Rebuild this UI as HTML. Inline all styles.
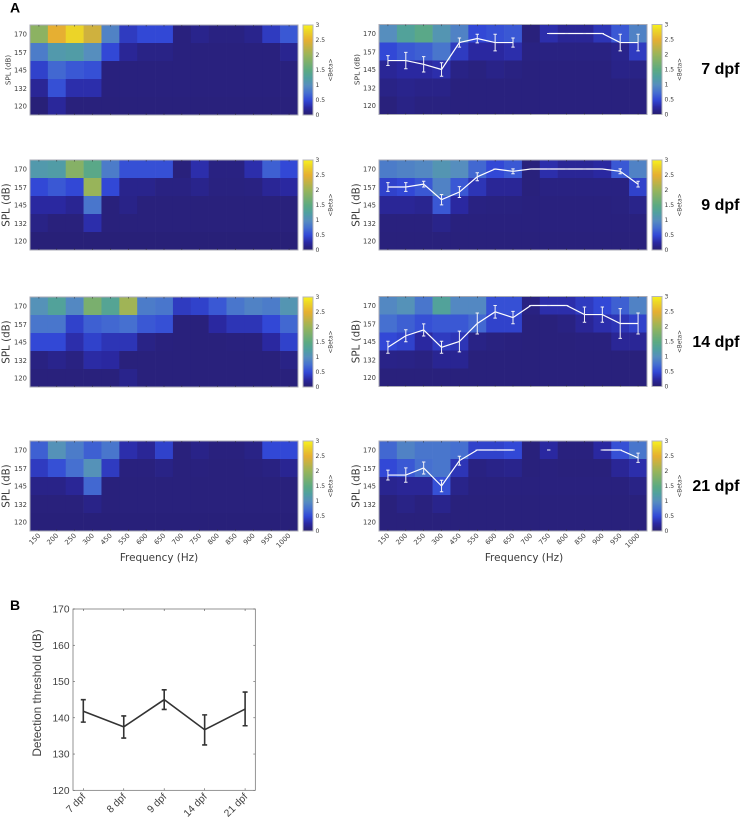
<!DOCTYPE html>
<html>
<head>
<meta charset="utf-8">
<style>
html,body{margin:0;padding:0;background:#fff;width:740px;height:824px;overflow:hidden}
svg{display:block;filter:blur(0.35px)}
text{font-family:"DejaVu Sans",sans-serif}
.lib{font-family:"Liberation Sans",sans-serif}
</style>
</head>
<body>
<svg id="figure" xmlns="http://www.w3.org/2000/svg" width="740" height="824" viewBox="0 0 740 824"></svg>
<script>
const frequencies = [150,200,250,300,450,550,600,650,700,750,800,850,900,950,1000];
const splLevels = [170,157,145,132,120];
const colorbarTicks = [0,0.5,1,1.5,2,2.5,3];

const heat7Left = [
 [1.9,2.5,2.8,2.35,0.9,0.4,0.5,0.5,0.08,0.15,0.1,0.1,0.15,0.4,0.6],
 [0.85,1.15,1.2,1.0,0.5,0.2,0.12,0.12,0.08,0.08,0.08,0.08,0.08,0.08,0.17],
 [0.45,0.7,0.6,0.55,0.08,0.08,0.08,0.08,0.08,0.08,0.08,0.08,0.08,0.08,0.08],
 [0.2,0.55,0.3,0.3,0.08,0.08,0.08,0.08,0.08,0.08,0.08,0.08,0.08,0.08,0.08],
 [0.05,0.22,0.07,0.07,0.07,0.07,0.07,0.07,0.07,0.07,0.07,0.07,0.07,0.07,0.07]
];
const heat7Right = [
 [1.0,1.3,1.45,1.1,0.9,0.5,0.55,0.6,0.07,0.3,0.2,0.2,0.35,0.6,0.9],
 [0.5,0.6,0.65,0.8,0.4,0.25,0.25,0.3,0.1,0.1,0.1,0.1,0.1,0.15,0.4],
 [0.2,0.25,0.25,0.3,0.12,0.09,0.13,0.1,0.08,0.08,0.08,0.08,0.08,0.13,0.12],
 [0.12,0.15,0.13,0.13,0.08,0.08,0.08,0.08,0.08,0.08,0.08,0.08,0.08,0.08,0.08],
 [0.07,0.12,0.09,0.09,0.08,0.08,0.08,0.08,0.08,0.08,0.08,0.08,0.08,0.08,0.08]
];
const heat9Left = [
 [1.15,1.2,1.85,1.45,0.85,0.55,0.55,0.55,0.07,0.3,0.1,0.1,0.3,0.65,0.5],
 [0.5,0.6,0.5,2.0,0.5,0.15,0.15,0.1,0.1,0.15,0.09,0.09,0.1,0.2,0.25],
 [0.25,0.25,0.18,0.8,0.07,0.13,0.07,0.07,0.07,0.07,0.07,0.07,0.07,0.07,0.07],
 [0.12,0.07,0.07,0.3,0.07,0.07,0.07,0.07,0.07,0.07,0.07,0.07,0.07,0.07,0.07],
 [0.05,0.05,0.05,0.05,0.05,0.05,0.05,0.05,0.05,0.05,0.05,0.05,0.05,0.05,0.05]
];
const heat9Right = [
 [0.85,0.9,0.95,1.1,1.0,0.7,0.5,0.6,0.07,0.3,0.2,0.2,0.25,0.6,0.9],
 [0.45,0.5,0.6,0.9,0.6,0.35,0.2,0.2,0.07,0.1,0.1,0.1,0.1,0.1,0.45],
 [0.2,0.2,0.17,0.6,0.25,0.1,0.09,0.09,0.08,0.08,0.08,0.08,0.08,0.09,0.14],
 [0.08,0.08,0.08,0.14,0.08,0.08,0.08,0.08,0.08,0.08,0.08,0.08,0.08,0.08,0.08],
 [0.07,0.07,0.07,0.07,0.07,0.07,0.07,0.07,0.07,0.07,0.07,0.07,0.07,0.07,0.07]
];
const heat14Left = [
 [1.05,1.3,0.95,1.75,1.35,2.05,0.85,0.8,0.4,0.45,0.6,0.8,0.9,0.85,1.1],
 [0.8,0.8,0.45,0.65,0.7,0.75,0.6,0.55,0.07,0.07,0.25,0.35,0.35,0.5,0.7],
 [0.5,0.5,0.3,0.45,0.35,0.35,0.12,0.08,0.07,0.07,0.07,0.08,0.08,0.25,0.45],
 [0.1,0.15,0.1,0.27,0.25,0.07,0.07,0.07,0.07,0.07,0.07,0.07,0.07,0.07,0.12],
 [0.07,0.07,0.07,0.07,0.07,0.15,0.07,0.07,0.07,0.07,0.07,0.07,0.07,0.07,0.07]
];
const heat14Right = [
 [0.95,1.05,0.8,1.3,0.95,0.95,0.55,0.55,0.1,0.3,0.3,0.4,0.5,0.65,0.9],
 [0.75,0.65,0.55,0.6,0.6,0.7,0.45,0.45,0.07,0.07,0.1,0.2,0.3,0.35,0.45],
 [0.5,0.45,0.25,0.4,0.35,0.12,0.09,0.08,0.07,0.07,0.07,0.08,0.08,0.2,0.2],
 [0.13,0.12,0.1,0.18,0.18,0.07,0.07,0.07,0.07,0.07,0.07,0.07,0.07,0.07,0.07],
 [0.07,0.07,0.07,0.07,0.07,0.07,0.07,0.07,0.07,0.07,0.07,0.07,0.07,0.07,0.07]
];
const heat21Left = [
 [0.65,1.05,0.85,0.65,0.8,0.3,0.2,0.45,0.07,0.13,0.08,0.08,0.12,0.5,0.5],
 [0.4,0.55,0.75,1.05,0.4,0.08,0.08,0.12,0.07,0.08,0.07,0.07,0.08,0.1,0.18],
 [0.13,0.13,0.2,0.7,0.07,0.07,0.07,0.07,0.07,0.07,0.07,0.07,0.07,0.07,0.07],
 [0.07,0.07,0.07,0.13,0.07,0.07,0.07,0.07,0.07,0.07,0.07,0.07,0.07,0.07,0.07],
 [0.06,0.06,0.06,0.06,0.06,0.06,0.06,0.06,0.06,0.06,0.06,0.06,0.06,0.06,0.06]
];
const heat21Right = [
 [0.7,0.9,0.8,0.8,0.75,0.45,0.45,0.5,0.07,0.25,0.08,0.08,0.25,0.55,0.8],
 [0.5,0.6,0.75,0.8,0.35,0.1,0.13,0.15,0.07,0.08,0.07,0.07,0.07,0.2,0.3],
 [0.17,0.2,0.2,0.55,0.14,0.08,0.08,0.08,0.08,0.08,0.08,0.08,0.08,0.08,0.12],
 [0.07,0.12,0.08,0.15,0.07,0.07,0.07,0.07,0.07,0.07,0.07,0.07,0.07,0.07,0.07],
 [0.07,0.07,0.07,0.07,0.07,0.07,0.07,0.07,0.07,0.07,0.07,0.07,0.07,0.07,0.07]
];

const threshold7 = [151.2,151.2,148.6,145,163.7,166.5,163.7,163.7,null,170,170,170,170,163.7,163.7];
const error7 = [3.4,5.7,5.3,4.7,3.2,3,5.8,3.2,null,0,0,0,0,5.8,5.8];
const threshold9 = [157.5,157.5,159.5,148.7,154,164.6,170,168.4,170,170,170,170,170,168.4,159.5];
const error9 = [3,3,2,3.6,3.8,2.8,0,1.7,0,0,0,0,0,1.7,2];
const threshold14 = [141,149,153,141,145,157.5,165.6,161.6,170,170,170,163.7,163.7,157.5,157.5];
const error14 = [4.2,4.2,4.2,4.2,7.2,7.3,4.4,4.3,0,0,0,5.3,5.3,10.3,7.3];
const threshold21 = [152.6,152.6,157.5,145,162.6,170,170,170,null,170,null,null,170,170,164.6];
const error21 = [3.4,5,4.2,4,3.1,0,0,0,null,0,null,null,0,0,3.2];

const ageLabels = ["7 dpf","8 dpf","9 dpf","14 dpf","21 dpf"];
const detectionMeans = [141.8,137.5,145,136.7,142.4];
const detectionUpper = [145,140.5,147.7,140.8,147.1];
const detectionLower = [138.8,134.4,142.3,132.5,137.8];
const detectionTicks = [120,130,140,150,160,170];

const NS = "http://www.w3.org/2000/svg";
const svg = document.getElementById("figure");

function node(tag, attrs, parent) {
  const el = document.createElementNS(NS, tag);
  for (const k in attrs) el.setAttribute(k, attrs[k]);
  (parent || svg).appendChild(el);
  return el;
}

function betaColor(v) {
  const s = [[0,40,30,110],[0.25,42,40,160],[0.5,50,72,214],[0.75,70,112,208],[1,86,142,190],[1.25,80,160,160],
             [1.5,92,170,130],[2,152,180,90],[2.5,230,175,50],[2.8,236,212,40],[3,248,240,30]];
  for (let i = 1; i < s.length; i++) {
    if (v <= s[i][0]) {
      const t = (v - s[i-1][0]) / (s[i][0] - s[i-1][0]);
      const c = [1,2,3].map(j => Math.round(s[i-1][j] + t * (s[i][j] - s[i-1][j])));
      return "rgb(" + c.join(",") + ")";
    }
  }
  return "rgb(248,240,30)";
}

function drawHeatmap(name, left, top, matrix, opts) {
  const W = 268, H = 90;
  const g = node("g", {});
  
  
  const cw = W / frequencies.length, ch = H / splLevels.length;
  const xScale = i => left + (i + 0.5) * cw;
  const yScale = db => top + ch / 2 + (170 - db) / 50 * (H - ch);

  matrix.forEach((row, r) => row.forEach((v, c) => {
    const cell = node("rect", {x: left + c * cw, y: top + r * ch, width: cw + 0.3, height: ch + 0.3, fill: betaColor(v)}, g);
    
    
  }));
  const frame = node("rect", {x: left, y: top, width: W, height: H, fill: "none", stroke: "#a9aab4", "stroke-width": 1}, g);
  
  

  frequencies.forEach((f, i) => {
    node("line", {x1: xScale(i), x2: xScale(i), y1: top, y2: top + 1.6, stroke: "#333", "stroke-width": 0.5}, g);
    node("line", {x1: xScale(i), x2: xScale(i), y1: top + H, y2: top + H - 1.6, stroke: "#333", "stroke-width": 0.5}, g);
    if (opts.xLabels) {
      const t = node("text", {x: xScale(i) + 2, y: top + H + 5, "font-size": 6.8, fill: "#3c3c3c", "text-anchor": "end",
        transform: "rotate(-45 " + (xScale(i) + 2) + " " + (top + H + 5) + ")"}, g);
      t.textContent = f;
      
      
    }
  });
  splLevels.forEach(db => {
    const t = node("text", {x: left - 3, y: yScale(db) + 2.5, "font-size": 6.8, fill: "#3c3c3c", "text-anchor": "end"}, g);
    t.textContent = db;
    
    
  });

  const yl = node("text", {x: opts.ylabelX, y: top + H / 2, "font-size": opts.ylabelSize, fill: "#3c3c3c", "text-anchor": "middle",
    transform: "rotate(-90 " + opts.ylabelX + " " + (top + H / 2) + ")"}, g);
  yl.textContent = "SPL (dB)";
  
  

  if (opts.xTitleX) {
    const xt = node("text", {x: opts.xTitleX, y: top + H + 30, "font-size": 10.4, fill: "#3c3c3c", "text-anchor": "middle"}, g);
    xt.textContent = "Frequency (Hz)";
    
    
  }

  // colorbar
  const cbx = left + W + 5, cbw = 10;
  const cbScale = v => top + H - v / 3 * H;
  for (let i = 0; i < 90; i++) {
    const v0 = 3 * i / 90, v1 = 3 * (i + 1) / 90;
    node("rect", {x: cbx, y: cbScale(v1), width: cbw, height: H / 90 + 0.3, fill: betaColor((v0 + v1) / 2)}, g);
  }
  const cf = node("rect", {x: cbx, y: top, width: cbw, height: H, fill: "none", stroke: "#b5b5bb", "stroke-width": 1}, g);
  
  
  colorbarTicks.forEach(v => {
    const t = node("text", {x: cbx + 12.5, y: cbScale(v) + 2.2, "font-size": 6, fill: "#3c3c3c"}, g);
    t.textContent = v;
    
    
  });
  const cl = node("text", {x: cbx + 29.5, y: top + H / 2, "font-size": 5.8, fill: "#3c3c3c", "text-anchor": "middle",
    transform: "rotate(-90 " + (cbx + 29.5) + " " + (top + H / 2) + ")"}, g);
  cl.textContent = "<Beta>";
  
  

  // threshold line
  if (opts.line) {
    let seg = [];
    const flush = () => {
      if (seg.length > 1) {
        const p = node("polyline", {points: seg.join(" "), fill: "none", stroke: "#fff", "stroke-width": 1.2}, g);
        
        
      }
      seg = [];
    };
    opts.line.forEach((v, i) => {
      if (v === null) { flush(); return; }
      seg.push(xScale(i) + "," + yScale(v));
    });
    flush();
    opts.line.forEach((v, i) => {
      if (v === null) return;
      const e = opts.err[i], x = xScale(i);
      const eb = node("path", {d: "M" + x + " " + yScale(v + e) + "V" + yScale(v - e) +
        "M" + (x - 1.7) + " " + yScale(v + e) + "H" + (x + 1.7) +
        "M" + (x - 1.7) + " " + yScale(v - e) + "H" + (x + 1.7),
        stroke: "#f2f2f6", "stroke-width": 1, fill: "none"}, g);
      
      
    });
  }
}

drawHeatmap("heatmap-7dpf-raw", 30, 25, heat7Left, {ylabelX: 10.5, ylabelSize: 7.2});
drawHeatmap("heatmap-7dpf-threshold", 379, 24.5, heat7Right, {ylabelX: 359.5, ylabelSize: 7.4, line: threshold7, err: error7});
drawHeatmap("heatmap-9dpf-raw", 30, 160, heat9Left, {ylabelX: 9.5, ylabelSize: 10.3});
drawHeatmap("heatmap-9dpf-threshold", 379, 160, heat9Right, {ylabelX: 359.5, ylabelSize: 10.3, line: threshold9, err: error9});
drawHeatmap("heatmap-14dpf-raw", 30, 297, heat14Left, {ylabelX: 9.5, ylabelSize: 10.3});
drawHeatmap("heatmap-14dpf-threshold", 379, 296.5, heat14Right, {ylabelX: 359.5, ylabelSize: 10.3, line: threshold14, err: error14});
drawHeatmap("heatmap-21dpf-raw", 30, 441, heat21Left, {ylabelX: 9.5, ylabelSize: 10.3, xLabels: true, xTitleX: 159});
drawHeatmap("heatmap-21dpf-threshold", 379, 441, heat21Right, {ylabelX: 359.5, ylabelSize: 10.3, line: threshold21, err: error21, xLabels: true, xTitleX: 524});

// Row labels and panel letters
const rowLabels = ["7 dpf","9 dpf","14 dpf","21 dpf"];
const rowBaselines = [74,210,347,491];
rowLabels.forEach((s, i) => {
  const t = node("text", {x: 739.5, y: rowBaselines[i], "font-size": 16, "font-weight": "bold", fill: "#000", "text-anchor": "end", class: "lib"});
  t.textContent = s;
  
  
});
const panelA = node("text", {x: 10, y: 12.5, "font-size": 14, "font-weight": "bold", fill: "#000", class: "lib"});
panelA.textContent = "A";


const panelB = node("text", {x: 10, y: 610, "font-size": 14, "font-weight": "bold", fill: "#000", class: "lib"});
panelB.textContent = "B";



// Panel B
(function () {
  const L = 73, R = 255.3, T = 609, B = 790.3;
  const g = node("g", {});
  
  
  const xB = i => 83.3 + i * 40.45;
  const yB = v => B - (v - 120) / 50 * (B - T);
  const box = node("rect", {x: L, y: T, width: R - L, height: B - T, fill: "none", stroke: "#666", "stroke-width": 0.7}, g);
  
  
  detectionTicks.forEach(v => {
    node("line", {x1: L, x2: L + 2, y1: yB(v), y2: yB(v), stroke: "#555", "stroke-width": 0.6}, g);
    node("line", {x1: R, x2: R - 2, y1: yB(v), y2: yB(v), stroke: "#555", "stroke-width": 0.6}, g);
    const t = node("text", {x: L - 3.5, y: yB(v) + 3.6, "font-size": 10.2, fill: "#404040", "text-anchor": "end", class: "lib"}, g);
    t.textContent = v;
    
    
  });
  ageLabels.forEach((s, i) => {
    const x = xB(i);
    node("line", {x1: x, x2: x, y1: B, y2: B - 2, stroke: "#555", "stroke-width": 0.6}, g);
    node("line", {x1: x, x2: x, y1: T, y2: T + 2, stroke: "#555", "stroke-width": 0.6}, g);
    const t = node("text", {x: x + 3, y: B + 7, "font-size": 10.2, fill: "#404040", "text-anchor": "end", class: "lib",
      transform: "rotate(-45 " + (x + 3) + " " + (B + 7) + ")"}, g);
    t.textContent = s;
    
    
  });
  const yt = node("text", {x: 41, y: 693, "font-size": 11.8, fill: "#404040", "text-anchor": "middle", class: "lib",
    transform: "rotate(-90 41 693)"}, g);
  yt.textContent = "Detection threshold (dB)";
  
  
  const line = node("polyline", {points: detectionMeans.map((v, i) => xB(i) + "," + yB(v)).join(" "), fill: "none", stroke: "#333", "stroke-width": 1.6}, g);
  
  
  detectionMeans.forEach((v, i) => {
    const x = xB(i);
    const eb = node("path", {d: "M" + x + " " + yB(detectionUpper[i]) + "V" + yB(detectionLower[i]) +
      "M" + (x - 2.5) + " " + yB(detectionUpper[i]) + "H" + (x + 2.5) +
      "M" + (x - 2.5) + " " + yB(detectionLower[i]) + "H" + (x + 2.5),
      stroke: "#333", "stroke-width": 1.6, fill: "none"}, g);
    
    
  });
})();
</script>
</body>
</html>
